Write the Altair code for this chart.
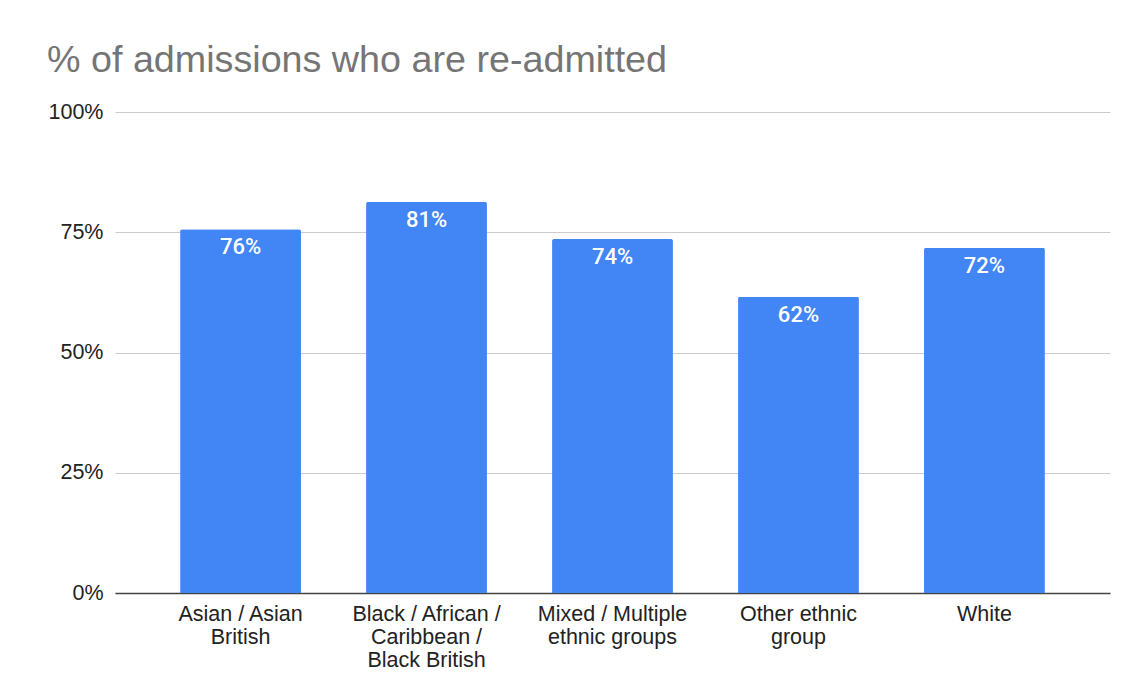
import altair as alt
import pandas as pd

categories = [
    "Asian / Asian British",
    "Black / African / Caribbean / Black British",
    "Mixed / Multiple ethnic groups",
    "Other ethnic group",
    "White",
]
label_lines = [
    ["Asian / Asian", "British"],
    ["Black / African /", "Caribbean /", "Black British"],
    ["Mixed / Multiple", "ethnic groups"],
    ["Other ethnic", "group"],
    ["White"],
]
values = [0.756, 0.813, 0.736, 0.616, 0.718]
y_ticks = [0, 0.25, 0.5, 0.75, 1.0]

df = pd.DataFrame({"group": categories, "share": values})

# build a label expression that wraps each category name onto its lines
expr = "datum.value"
for cat, lines in reversed(list(zip(categories, label_lines))):
    arr = "[" + ",".join("'" + l + "'" for l in lines) + "]"
    expr = f"datum.value == '{cat}' ? {arr} : ({expr})"

x = alt.X(
    "group:N",
    sort=categories,
    title=None,
    scale=alt.Scale(paddingInner=0.35, paddingOuter=0.35),
    axis=alt.Axis(
        labelAngle=0,
        labelExpr=expr,
        labelFont="Liberation Sans",
        labelFontSize=21.5,
        labelColor="#222222",
        labelLineHeight=23,
        labelPadding=10,
        labelBaseline="top",
        ticks=False,
        domainColor="#444444",
        domainWidth=1.5,
        grid=False,
    ),
)
y = alt.Y(
    "share:Q",
    title=None,
    scale=alt.Scale(domain=[0, 1], nice=False),
    axis=alt.Axis(
        values=y_ticks,
        format=".0%",
        labelFont="Liberation Sans",
        labelFontSize=21.5,
        labelColor="#222222",
        labelPadding=12,
        ticks=False,
        domain=False,
        gridColor="#cccccc",
        gridWidth=1,
    ),
)

bars = alt.Chart(df).mark_bar(
    color="#4285f4", cornerRadiusTopLeft=2, cornerRadiusTopRight=2
).encode(x=x, y=y)

labels = alt.Chart(df).mark_text(
    baseline="top", dy=8, color="white", font="Roboto", fontSize=22, fontWeight=500
).encode(x=alt.X("group:N", sort=categories), y="share:Q", text=alt.Text("share:Q", format=".0%"))

chart = (
    alt.layer(bars, labels)
    .properties(
        width=995,
        height=481,
        autosize=alt.AutoSizeParams(type="none"),
        padding={"left": 115, "top": 112, "right": 23, "bottom": 107},
        background="white",
        title=alt.TitleParams(
            "% of admissions who are re-admitted",
            anchor="start",
            frame="group",
            dx=-68,
            offset=21,
            font="Liberation Sans",
            fontSize=37.7,
            fontWeight="normal",
            color="#757575",
        ),
    )
    .configure_view(stroke=None)
)

chart.save("out.html", embed_options={"renderer": "svg", "actions": False})
